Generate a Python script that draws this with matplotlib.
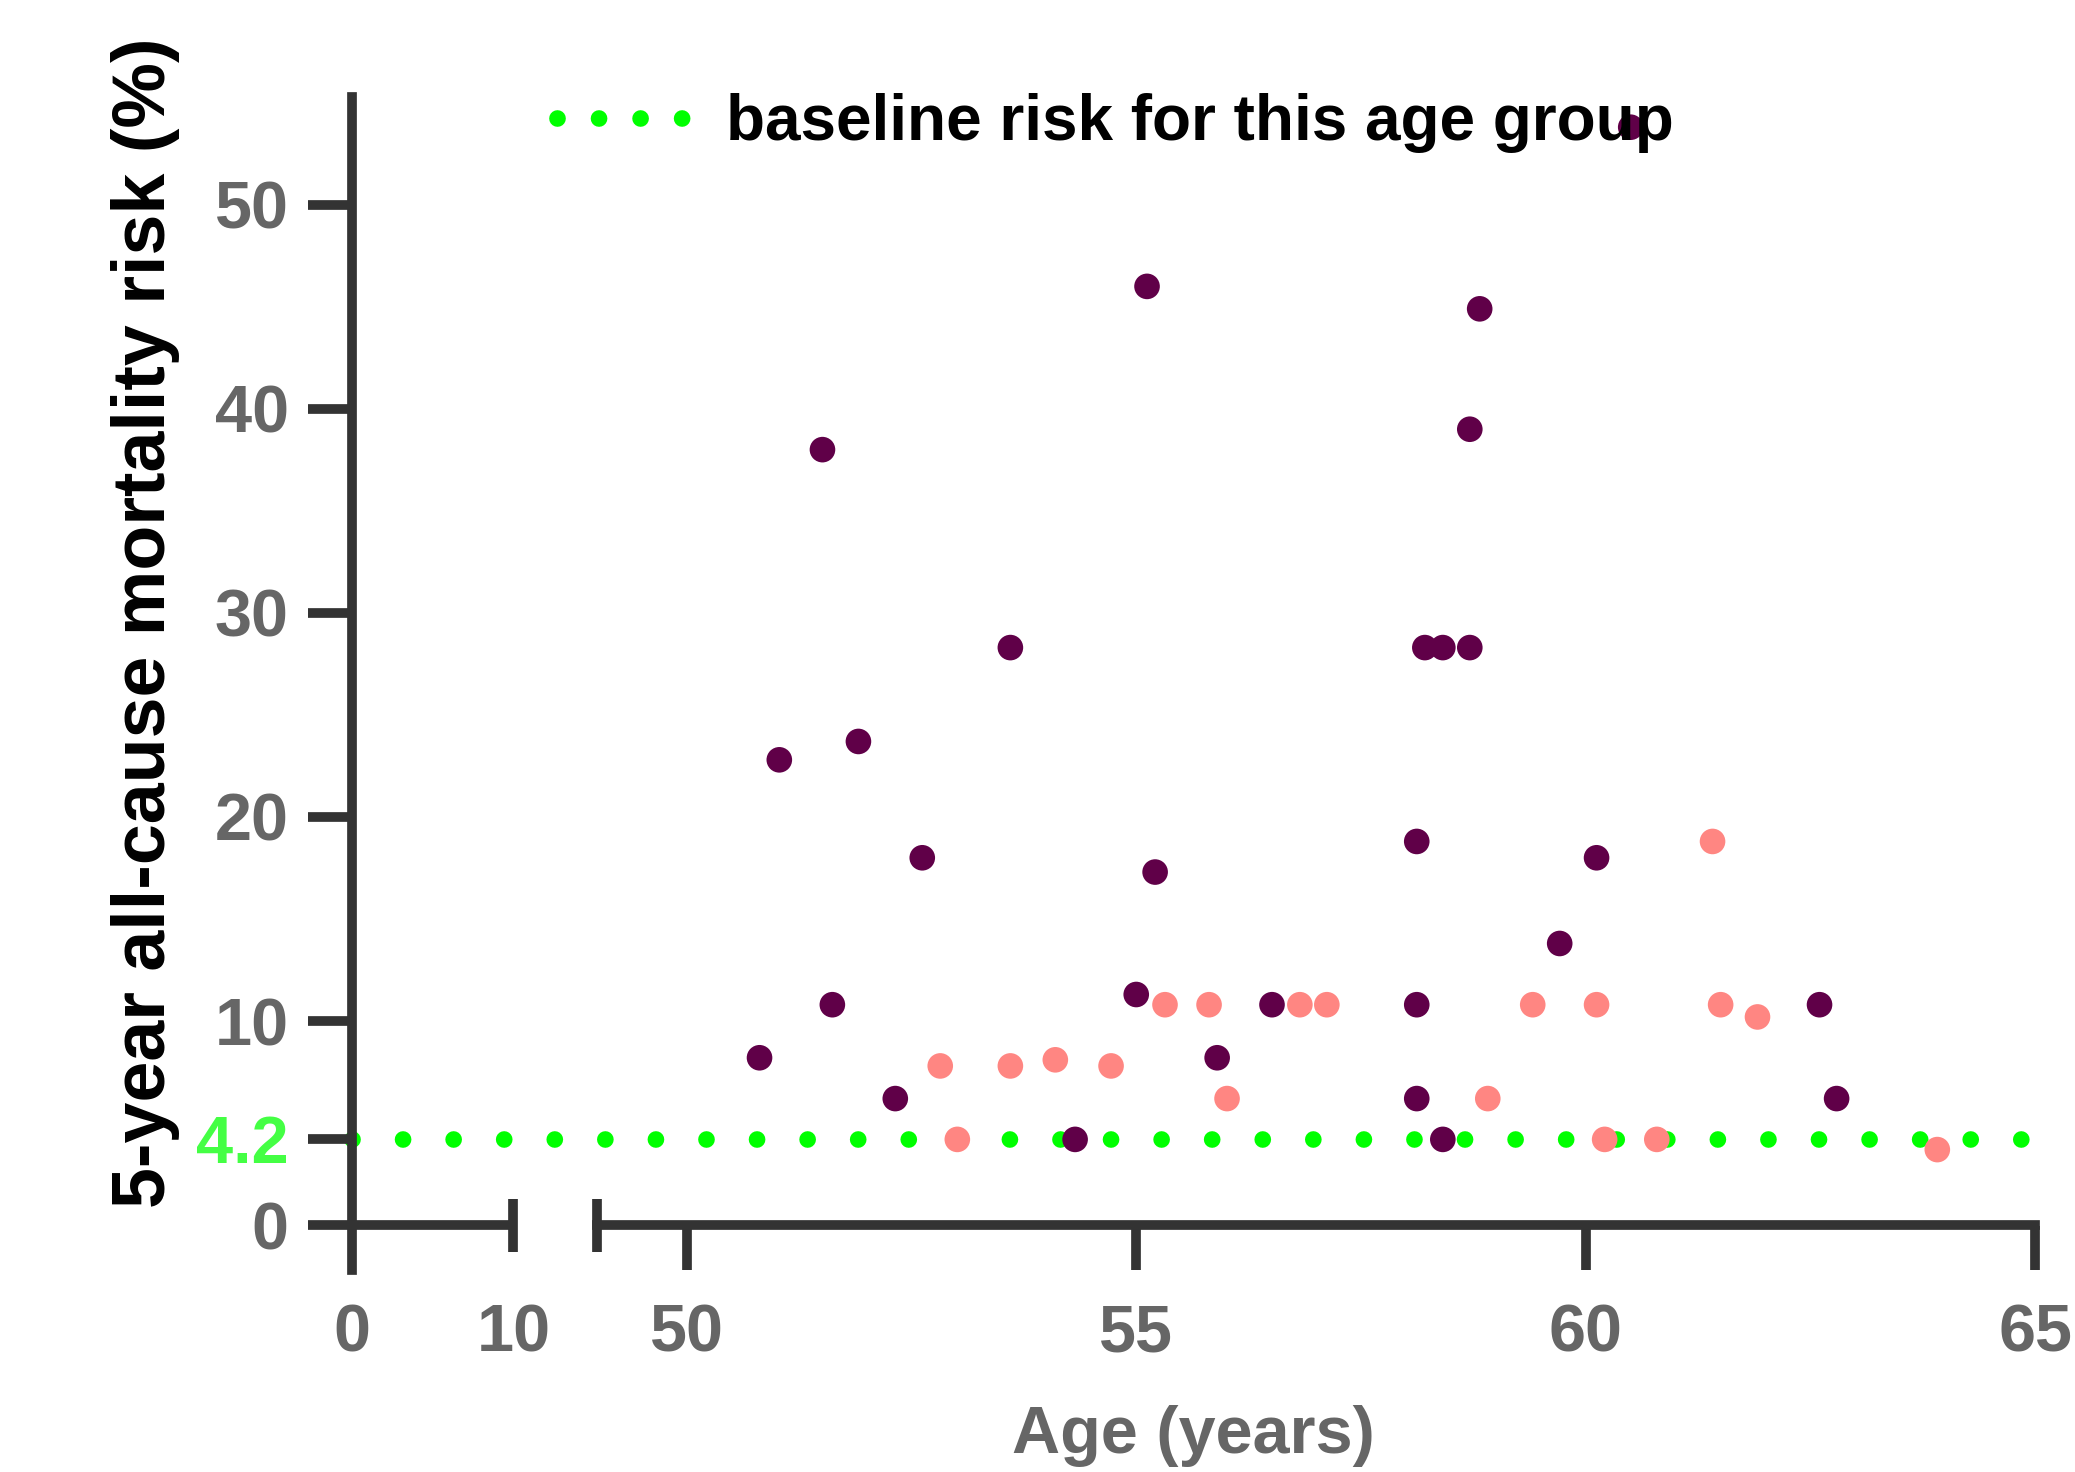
import numpy as np
import matplotlib.pyplot as plt
from matplotlib.lines import Line2D

plt.rcParams['font.family'] = ['Liberation Sans', 'DejaVu Sans']
plt.rcParams['font.weight'] = 'bold'
plt.rcParams['axes.labelweight'] = 'bold'
plt.rcParams['lines.scale_dashes'] = False

# high risk individuals (dark purple)
purple_age = [50.81, 51.03, 51.51, 51.62, 51.91, 52.32, 52.62, 53.60, 54.32, 55.00,
              55.12, 55.21, 55.90, 56.51, 58.12, 58.12, 58.12, 58.21, 58.41, 58.41,
              58.71, 58.71, 58.82, 59.71, 60.12, 60.50, 62.60, 62.79]
purple_risk = [8.2, 22.8, 38.0, 10.8, 23.7, 6.2, 18.0, 28.3, 4.2, 11.3,
               46.0, 17.3, 8.2, 10.8, 18.8, 10.8, 6.2, 28.3, 28.3, 4.2,
               28.3, 39.0, 44.9, 13.8, 18.0, 53.8, 10.8, 6.2]

# lower risk individuals (salmon)
salmon_age = [52.82, 53.01, 53.60, 54.10, 54.72, 55.32, 55.81, 56.01, 56.82, 57.12,
              58.91, 59.41, 60.12, 60.21, 60.79, 61.41, 61.50, 61.91, 63.91]
salmon_risk = [7.8, 4.2, 7.8, 8.1, 7.8, 10.8, 10.8, 6.2, 10.8, 10.8,
               6.2, 10.8, 10.8, 4.2, 4.2, 18.8, 10.8, 10.2, 3.7]

baseline = 4.2
yticks = [0, 4.2, 10, 20, 30, 40, 50]
xticks = [0, 10, 50, 55, 60, 65]

axis_col = '#333333'
label_col = '#666666'


# broken x axis: 0-10 squeezed, gap, then 49-65
def fwd(x):
    x = np.asarray(x, dtype=float)
    return np.where(x <= 10, x * 16.15,
                    np.where(x >= 49, 244.8 + (x - 49) * 89.91,
                             161.5 + (x - 10) * (83.3 / 39)))


def inv(u):
    u = np.asarray(u, dtype=float)
    return np.where(u <= 161.5, u / 16.15,
                    np.where(u >= 244.8, 49 + (u - 244.8) / 89.91,
                             10 + (u - 161.5) / (83.3 / 39)))


fig = plt.figure(figsize=(20.75, 14.72), dpi=100)
ax = fig.add_axes([0.16964, 0.13723, 0.81123, 0.79687])
ax.set_xscale('function', functions=(fwd, inv))
ax.set_xlim(0, 65)
ax.set_ylim(-2.2, 55.28)

ax.plot([0, 65], [baseline, baseline], color='#00FF00', lw=12,
        dashes=(0.01, 36.4), dash_capstyle='round', zorder=1.5, clip_on=False)
ax.scatter(purple_age, purple_risk, s=340, color='#600048', edgecolors='none', zorder=3)
ax.scatter(salmon_age, salmon_risk, s=340, color='#FF8682', edgecolors='none', zorder=3)

# axis lines
for s in ['top', 'right', 'bottom']:
    ax.spines[s].set_visible(False)
ax.spines['left'].set_linewidth(7)
ax.spines['left'].set_color(axis_col)
ax.plot([0, 10], [0, 0], color=axis_col, lw=7, solid_capstyle='butt', clip_on=False, zorder=2.6)
ax.plot([49, 65], [0, 0], color=axis_col, lw=7, solid_capstyle='projecting', clip_on=False, zorder=2.6)
ax.plot([10, 10], [-1.3, 1.3], color=axis_col, lw=7, solid_capstyle='butt', clip_on=False, zorder=2.6)
ax.plot([49, 49], [-1.3, 1.3], color=axis_col, lw=7, solid_capstyle='butt', clip_on=False, zorder=2.6)

ax.set_yticks(yticks)
ax.set_yticklabels(['0', '4.2', '10', '20', '30', '40', '50'])
ax.tick_params(axis='y', length=31.5, width=7, color=axis_col, pad=14,
               labelsize=48, labelcolor=label_col)
ax.get_yticklabels()[1].set_color('#44FF44')

ax.set_xticks(xticks)
ax.set_xticklabels([str(t) for t in xticks])
ax.tick_params(axis='x', direction='in', length=31.7, width=7, color=axis_col, pad=24,
               labelsize=48, labelcolor=label_col)
for t in ax.xaxis.get_major_ticks()[:2]:
    t.tick1line.set_visible(False)

ax.set_ylabel('5-year all-cause mortality risk (%)', fontsize=53, color='black',
              fontweight='bold', va='center', ha='center')
ax.yaxis.set_label_coords(-0.1226, 0.552)
ax.set_xlabel('Age (years)', fontsize=48, color=label_col, fontweight='bold',
              va='center', ha='center')
ax.xaxis.set_label_coords(0.5, -0.1415)

handle = Line2D([], [], color='#00FF00', lw=12, dashes=(0.01, 29.9),
                dash_capstyle='round')
fig.legend([handle], ['baseline risk for this age group'], loc='center left',
           bbox_to_anchor=(0.2684, 0.9165), frameon=False, fontsize=46,
           handlelength=1.967, handletextpad=0.685, borderpad=0, borderaxespad=0)

fig.savefig('out.png', dpi=100)
